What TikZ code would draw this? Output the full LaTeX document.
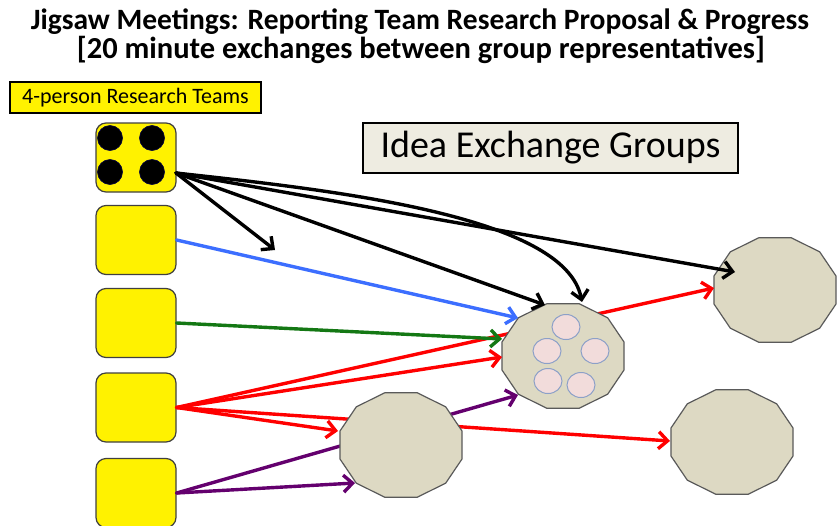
\documentclass[tikz,border=0pt]{standalone}
\usepackage{fontspec}
\setmainfont{Carlito}
\usetikzlibrary{shapes.geometric,arrows.meta,calc}
\definecolor{grpfill}{RGB}{221,217,195}
\definecolor{grpline}{RGB}{90,90,90}
\definecolor{ideafill}{RGB}{238,236,225}
\definecolor{pinkfill}{RGB}{242,220,219}
\definecolor{pinkline}{RGB}{140,160,200}
\definecolor{arrblue}{RGB}{60,110,255}
\definecolor{arrgreen}{RGB}{20,120,20}
\definecolor{arrred}{RGB}{255,0,0}
\definecolor{arrpurple}{RGB}{100,0,110}
\newcommand{\grpnode}[3]{%
  \begin{scope}[shift={(#2,#3)},xscale=1.17]
    \node[grpshape,transform shape] (#1) at (0,0) {};
  \end{scope}}
\tikzset{
  team/.style={rectangle,rounded corners=10pt,minimum width=80,minimum height=69,
    fill=yellow,draw=black!75,line width=1.2pt,inner sep=0},
  dotnode/.style={circle,fill=black,draw=blue!25!black,line width=0.6pt,minimum size=25,inner sep=0},
  grpshape/.style={regular polygon,regular polygon sides=12,minimum size=108,inner sep=0,
    fill=grpfill,draw=grpline,line width=1.2pt},
  member/.style={ellipse,minimum width=28,minimum height=25,inner sep=0,fill=pinkfill,draw=pinkline,line width=1pt},
  link/.style={line width=3.4pt,line cap=round,line join=round,-{Straight Barb[length=9pt,width=17pt,line width=3.4pt]}},
}
\begin{document}
\begin{tikzpicture}[x=1pt,y=-1pt]
\useasboundingbox (0,0) rectangle (838,525);
% titles
\node[font=\bfseries\fontsize{29.5}{32}\selectfont,inner sep=0] (t1) at (420,22) {Jigsaw Meetings: Reporting Team Research Proposal \& Progress};
\node[font=\bfseries\fontsize{30.5}{33}\selectfont,inner sep=0] (t2) at (421,50) {[20 minute exchanges between group representatives]};
% label
\node[draw=black,line width=2.5pt,fill=yellow,minimum width=251,minimum height=31,inner sep=0,
  font=\fontsize{22}{24}\selectfont] (lab) at (135.5,97.5) {4-person Research Teams};
\node[draw=black,line width=2.5pt,fill=ideafill,minimum width=375,minimum height=50,inner sep=0,
  font=\fontsize{38}{40}\selectfont] (idea) at (550.5,148) {Idea Exchange Groups};
% teams
\node[team] (b1) at (136,157.5) {};
\node[team] (b2) at (136,240) {};
\node[team] (b3) at (136,323) {};
\node[team] (b4) at (136,407.5) {};
\node[team] (b5) at (136,493) {};
\node[dotnode] (d1) at (110,138) {};
\node[dotnode] (d2) at (152,138) {};
\node[dotnode] (d3) at (110,172) {};
\node[dotnode] (d4) at (152,172) {};
\coordinate (b1s) at (176,173);
% far groups
\grpnode{tr}{775}{290}
\grpnode{br}{732}{442}
% end points
\coordinate (eShort) at (275,250);
\coordinate (eMainA) at (545,305);
\coordinate (eMainB) at (582,302);
\coordinate (eTRblk) at (735,272);
\coordinate (eTRred) at (714,288);
\coordinate (eMainBlue) at (518,318);
\coordinate (eMainGreen) at (502,339);
\coordinate (eMainRed) at (502,357);
\coordinate (eBMred) at (338,431);
\coordinate (eBRred) at (670,441);
\coordinate (eBMpur) at (355,483);
\coordinate (eMainPur) at (518,395);
% line passing under main group
\draw[link,arrred] (b4.east) -- (eTRred);
\grpnode{main}{563}{356}
\node[member] (m1) at (566,327) {};
\node[member] (m2) at (547,351) {};
\node[member] (m3) at (595,351) {};
\node[member] (m4) at (548,381) {};
\node[member] (m5) at (581,385) {};
% lines passing under bottom-middle group
\draw[link,arrpurple] (b5.east) -- (eMainPur);
\draw[link,arrred] (b4.east) -- (eBRred);
\grpnode{bm}{401}{445}
% remaining arrows
\draw[link,black] (b1s) -- (eShort);
\draw[link,black] (b1s) -- (eMainA);
\draw[link,black] (b1s) .. controls (330,190) and (565,215) .. (eMainB);
\draw[link,black] (b1s) -- (eTRblk);
\draw[link,arrblue] (b2.east) -- (eMainBlue);
\draw[link,arrgreen] (b3.east) -- (eMainGreen);
\draw[link,arrred] (b4.east) -- (eMainRed);
\draw[link,arrred] (b4.east) -- (eBMred);
\draw[link,arrpurple] (b5.east) -- (eBMpur);
\end{tikzpicture}
\end{document}
